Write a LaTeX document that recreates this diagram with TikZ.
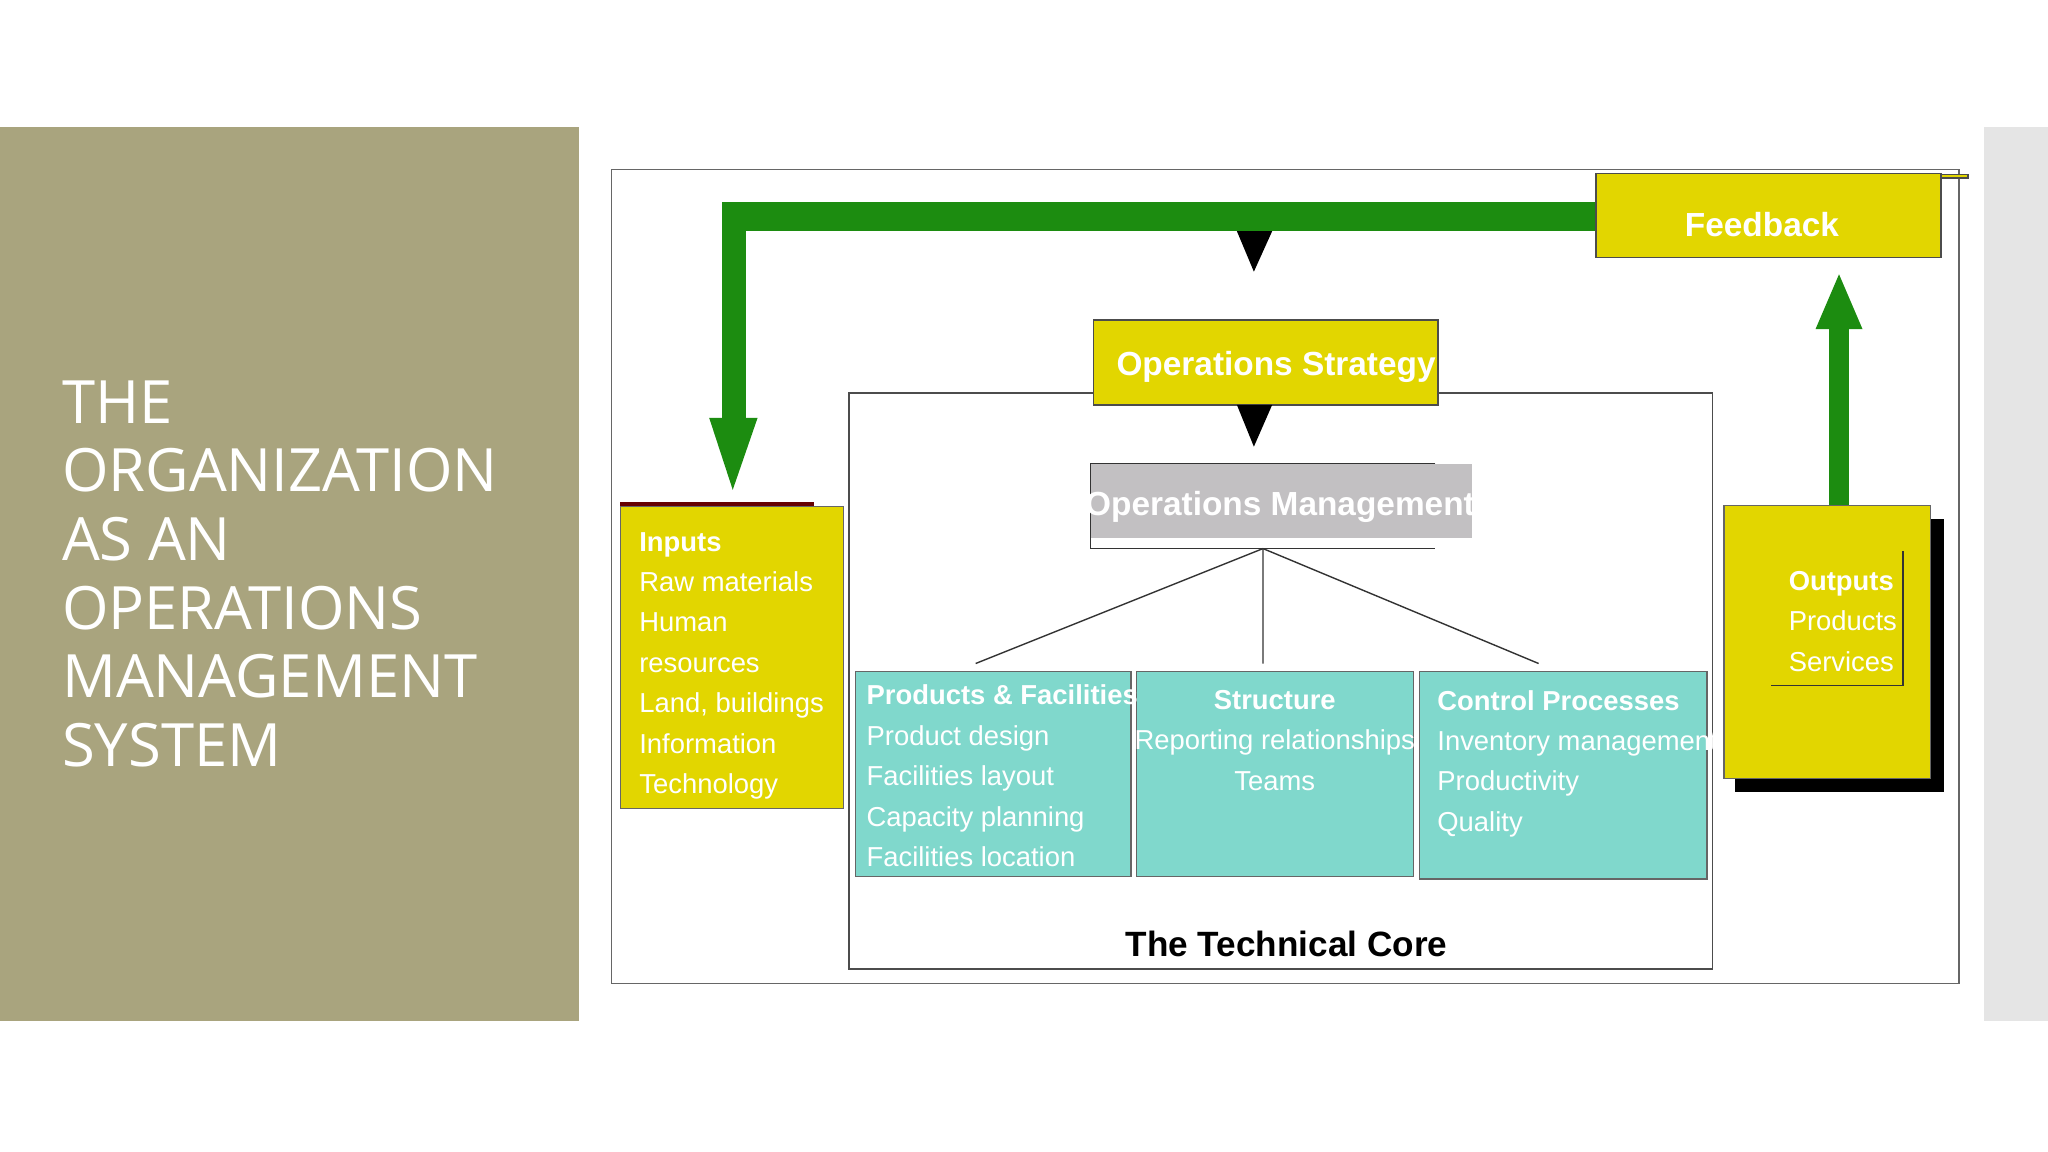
\documentclass[tikz,border=0pt]{standalone}
\usepackage{fontspec}
\setmainfont{Liberation Sans}
\newfontfamily\titlefont{Open Sans}
\definecolor{olive}{HTML}{A9A47E}
\definecolor{ygold}{HTML}{E2D600}
\definecolor{gg}{HTML}{1C8C10}
\definecolor{teal}{HTML}{80D8CC}
\definecolor{opgrey}{HTML}{C2C0C2}
\begin{document}
\begin{tikzpicture}[x=0.01306cm,y=-0.01306cm,
  ybox/.style={draw=black!70,fill=ygold,text=white,font=\fontsize{9.5}{11}\selectfont\bfseries},
  tbox/.style={draw=black!60,fill=teal,text=white,font=\fontsize{7.8}{11.5}\selectfont,align=left,anchor=north west,inner sep=2pt},
  tri/.style={fill=black}]
\useasboundingbox (0,0) rectangle (1568,882);
\fill[white] (0,0) rectangle (1568,882);
\fill[olive] (0,97) rectangle (443,782);
\fill[black!10] (1519,97) rectangle (1568,782);
\node[anchor=north west,text=white,align=left,font=\titlefont\fontsize{17}{19.5}\selectfont] (title) at (38,282)
 {THE\\ORGANIZATION\\AS AN\\OPERATIONS\\MANAGEMENT\\SYSTEM};
\draw[black!60,fill=white] (468,130) rectangle (1500,753);
\draw[black!70] (650,301) rectangle (1311,742);
% feedback loop
\fill[gg] (553,155) rectangle (1222,177);
\fill[gg] (553,155) rectangle (571,322);
\fill[gg] (543,320) -- (580,320) -- (561,375) -- cycle;
\node[ybox,minimum width=264\pgflinewidth,anchor=north west,inner sep=0pt] (fb) at (1222,133) {};
\draw[black!70,fill=ygold] (1222,133) rectangle (1486,197);
\node[text=white,font=\fontsize{9.5}{11}\selectfont\bfseries] (fbt) at (1349,172) {Feedback};
\fill[tri] (947,177) -- (974,177) -- (960,208) -- cycle;
\draw[black!70,fill=ygold] (837,245) rectangle (1101,310);
\node[text=white,font=\fontsize{9.5}{11}\selectfont\bfseries] (os) at (977,281) {Operations Strategy};
\fill[tri] (947,310) -- (974,310) -- (960,342) -- cycle;
\fill[opgrey] (835,355) rectangle (1127,412);
\draw[black!80] (1099,355) -- (835,355) -- (835,420) -- (1099,420);
\node[text=white,font=\fontsize{9.5}{11}\selectfont\bfseries] (om) at (980,388) {Operations Management};
\coordinate (hub) at (967,420);
\coordinate (c1) at (747,508); \coordinate (c2) at (967,508); \coordinate (c3) at (1178,508);
\draw[black!80] (hub) -- (c1) (hub) -- (c2) (hub) -- (c3);
% teal boxes
\draw[black!60,fill=teal] (655,514) rectangle (866,671);
\draw[black!60,fill=teal] (870,514) rectangle (1082,671);
\draw[black!60,fill=teal] (1087,514) rectangle (1307,673);
\node[text=white,font=\fontsize{7.8}{11.5}\selectfont,align=left,anchor=north west] (pf) at (654,515)
 {\textbf{Products \& Facilities}\\Product design\\Facilities layout\\Capacity planning\\Facilities location};
\node[text=white,font=\fontsize{7.8}{11.5}\selectfont,align=center,anchor=north] (st) at (976,519)
 {\textbf{Structure}\\Reporting relationships\\Teams};
\node[text=white,font=\fontsize{7.8}{11.5}\selectfont,align=left,anchor=north west] (cp) at (1091,519)
 {\textbf{Control Processes}\\Inventory management\\Productivity\\Quality};
% inputs
\draw[black!60,fill=ygold] (475,388) rectangle (646,619);
\draw[red!40!black,line width=1.2pt] (475,386) -- (623,386);
\node[text=white,font=\fontsize{7.8}{11.5}\selectfont,align=left,anchor=north west] (in) at (480,398)
 {\textbf{Inputs}\\Raw materials\\Human\\resources\\Land, buildings\\Information\\Technology};
% outputs
\fill[black] (1328,397) rectangle (1488,606);
\draw[black!60,fill=ygold] (1320,387) rectangle (1478,596);
\draw[black!80] (1457,422) -- (1457,525) -- (1356,525);
\node[text=white,font=\fontsize{7.8}{11.5}\selectfont,align=left,anchor=north west] (out) at (1360,428)
 {\textbf{Outputs}\\Products\\Services};
\fill[gg] (1400,250) rectangle (1416,387);
\fill[gg] (1390,252) -- (1426,252) -- (1408,210) -- cycle;
\node[font=\fontsize{10}{12}\selectfont\bfseries] (tc) at (985,723) {The Technical Core};
\end{tikzpicture}
\end{document}
